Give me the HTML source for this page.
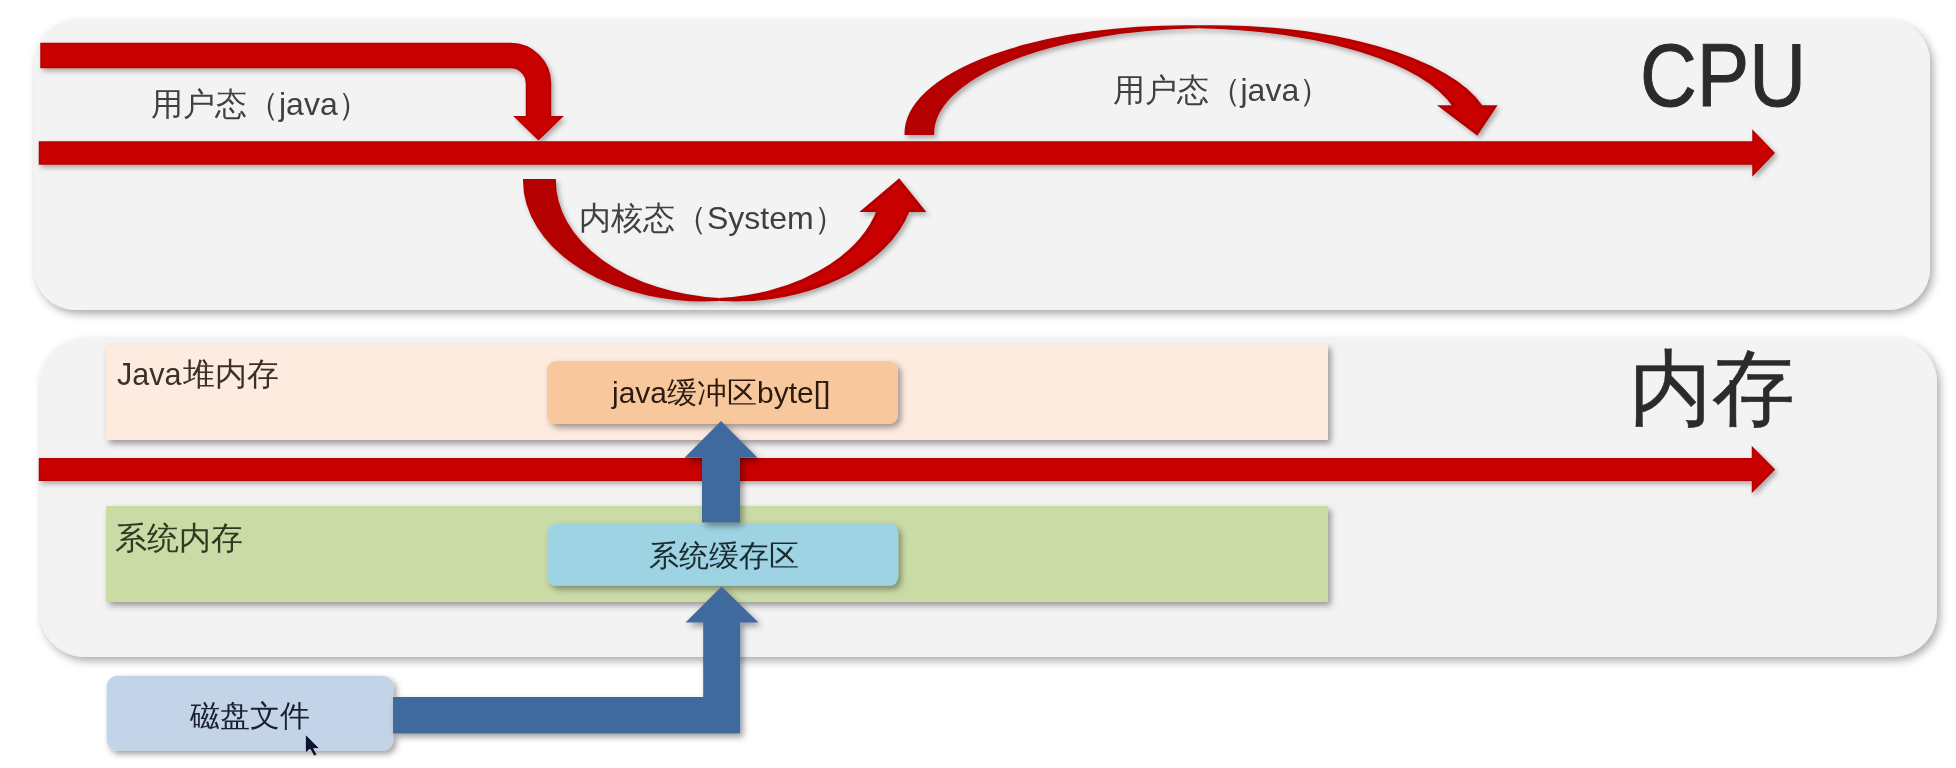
<!DOCTYPE html>
<html><head><meta charset="utf-8"><style>
html,body{margin:0;padding:0;background:#fff;}
svg{display:block;will-change:transform;}
text{font-family:"Liberation Sans", sans-serif;}
</style></head><body>
<svg width="1956" height="768" viewBox="0 0 1956 768">
<defs>
<filter id="shP" x="-5%" y="-20%" width="110%" height="140%"><feDropShadow dx="3" dy="4" stdDeviation="4" flood-color="#000" flood-opacity="0.33"/></filter>
<filter id="sh" x="-20%" y="-50%" width="140%" height="200%"><feDropShadow dx="3" dy="3.5" stdDeviation="3.2" flood-color="#000" flood-opacity="0.38"/></filter>
<filter id="shR" x="-20%" y="-50%" width="140%" height="200%"><feDropShadow dx="2.5" dy="3" stdDeviation="2.5" flood-color="#000" flood-opacity="0.30"/></filter>
</defs>
<rect x="0" y="0" width="1956" height="768" fill="#FFFFFF"/>
<!-- panels -->
<rect x="34" y="20" width="1896" height="290" rx="42" ry="42" fill="#F3F3F3" filter="url(#shP)"/>
<rect x="40" y="338" width="1897" height="319" rx="45" ry="45" fill="#F3F3F3" filter="url(#shP)"/>

<!-- CPU panel arrows -->
<g filter="url(#shR)">
<path d="M41,43.5 L510.5,43.5 A40,40 0 0 1 550.5,83.5 L550.5,116.7 L562,116.7 L538.5,139.5 L515,116.7 L526.5,116.7 L526.5,83.5 A16,16 0 0 0 510.5,67.5 L41,67.5 Z" fill="#C80000" stroke="#B40000" stroke-width="1.5"/>
<path d="M39.5,142 L1753,142 L1753,131 L1774,153 L1753,175 L1753,164 L39.5,164 Z" fill="#C80000" stroke="#B40000" stroke-width="1.5"/>
<path d="M719.23,299.59 A179.79,119.50 0 0 1 524.50,180.50 L554.38,180.50 A179.79,119.50 0 0 0 719.23,299.59 Z" fill="#B40000" stroke="#B40000" stroke-width="3" stroke-linejoin="miter"/>
<path d="M899.02,180.50 L923.19,210.38 L908.25,210.38 A179.79,119.50 0 0 1 719.23,299.59 A179.79,119.50 0 0 0 878.38,210.38 L863.44,210.38 Z" fill="#C80000" stroke="#B40000" stroke-width="3" stroke-linejoin="miter"/>
<path d="M1198.17,26.82 A278.83,106.80 0 0 0 906.00,133.50 L932.70,133.50 A278.83,106.80 0 0 1 1198.17,26.82 Z" fill="#B40000" stroke="#B40000" stroke-width="3" stroke-linejoin="miter"/>
<path d="M1477.00,133.50 L1494.85,106.80 L1481.50,106.80 A278.83,106.80 0 0 0 1198.17,26.82 A278.83,106.80 0 0 1 1454.80,106.80 L1441.45,106.80 Z" fill="#C80000" stroke="#B40000" stroke-width="3" stroke-linejoin="miter"/>
</g>

<text x="151" y="115" font-size="32" fill="#404040" font-family='"Liberation Sans", sans-serif' font-weight="normal">用户态（java）</text>
<text x="579" y="228.7" font-size="32" fill="#404040" font-family='"Liberation Sans", sans-serif' font-weight="normal">内核态（System）</text>
<text x="1112.5" y="101.3" font-size="32" fill="#404040" font-family='"Liberation Sans", sans-serif' font-weight="normal">用户态（java）</text>
<text x="1640" y="106" font-size="89" fill="#2B2B2B" font-family='"Liberation Sans", sans-serif' font-weight="normal" textLength="166" lengthAdjust="spacingAndGlyphs" stroke="#2B2B2B" stroke-width="1">CPU</text>

<!-- memory panel -->
<rect x="106" y="344.5" width="1222" height="95.5" fill="#FDEBE0" filter="url(#sh)"/>
<rect x="106" y="506" width="1222" height="96" fill="#CADBA6" filter="url(#sh)"/>
<text y="384.6" font-size="32" fill="#3A302A"><tspan x="117" textLength="64.5" lengthAdjust="spacingAndGlyphs">Java</tspan><tspan x="182.7" font-size="31.6">堆内存</tspan></text>
<text x="114.5" y="549" font-size="32" fill="#2E3A22" font-family='"Liberation Sans", sans-serif' font-weight="normal">系统内存</text>
<text x="1628.5" y="416.5" font-size="83" fill="#2B2B2B" font-family='"Liberation Sans", sans-serif' font-weight="normal" stroke="#2B2B2B" stroke-width="0.5">内存</text>

<path d="M39.5,458.7 L1752.5,458.7 L1752.5,447.5 L1774.2,469.6 L1752.5,491.5 L1752.5,480.3 L39.5,480.3 Z" fill="#C80000" stroke="#B40000" stroke-width="1.5" filter="url(#shR)"/>

<rect x="547" y="361" width="351" height="63" rx="9" ry="9" fill="#F8C89C" filter="url(#sh)"/>
<rect x="547.5" y="523.6" width="350.7" height="62.2" rx="9" ry="9" fill="#9DD3E3" filter="url(#sh)"/>
<text x="612" y="403" font-size="30" fill="#2A1A10" font-family='"Liberation Sans", sans-serif' font-weight="normal">java缓冲区byte[]</text>
<text x="648.5" y="566" font-size="29.6" fill="#1A2A30" font-family='"Liberation Sans", sans-serif' font-weight="normal">系统缓存区</text>

<rect x="106.6" y="675.8" width="286.7" height="74.8" rx="11" ry="11" fill="#C3D3E8" filter="url(#sh)"/>
<path d="M721,421 L757.5,457.7 L740,457.7 L740,522.5 L702,522.5 L702,457.7 L684.5,457.7 Z" fill="#41699D" filter="url(#sh)"/>
<path d="M721.5,586.6 L758.5,622.5 L740.2,622.5 L740.2,733.4 L393,733.4 L393,697 L703.2,697 L703.2,622.5 L685.5,622.5 Z" fill="#41699D" filter="url(#sh)"/>

<text x="190" y="726" font-size="29.5" fill="#1A2030" font-family='"Liberation Sans", sans-serif' font-weight="normal">磁盘文件</text>

<!-- cursor -->
<path d="M305.5,734.5 L305.5,753 L310,749 L314,756 L317,754.5 L313.5,748.5 L319.5,748.5 Z" fill="#0B1530" stroke="#F0F4FA" stroke-width="0.8" stroke-opacity="0.7"/>
</svg>
</body></html>
